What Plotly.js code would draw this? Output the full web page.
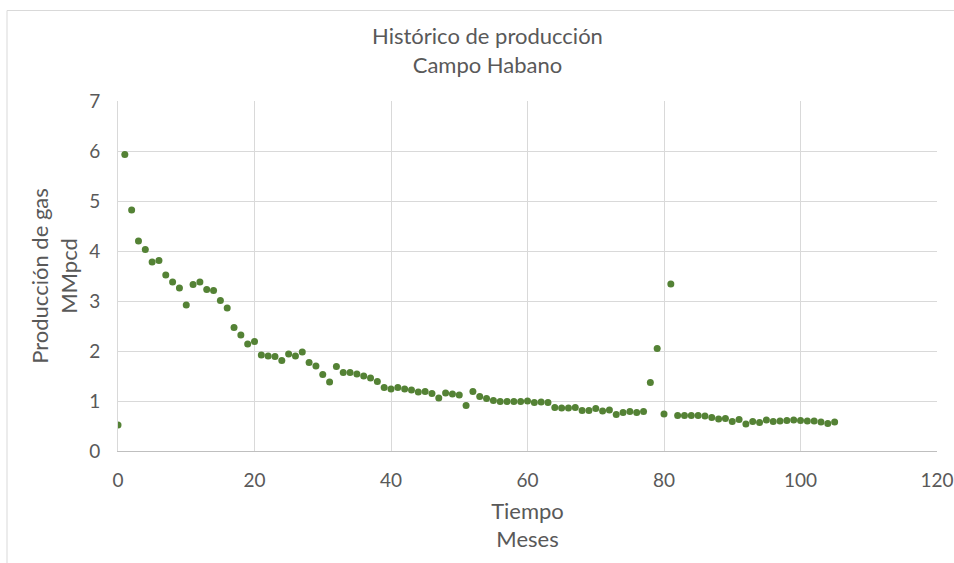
<!DOCTYPE html>
<html>
<head>
<meta charset="utf-8">
<script src="https://cdn.plot.ly/plotly-3.0.1.min.js"></script>
<style>html,body{margin:0;padding:0;background:#fff;}#chart{width:954px;height:563px;}</style>
</head>
<body>
<div id="chart"></div>
<script>
const months = [];
for (let i = 0; i <= 105; i++) months.push(i);
const gasProduction = [
  0.52, 5.93, 4.82, 4.20, 4.03, 3.78, 3.81, 3.52, 3.38, 3.26,
  2.92, 3.33, 3.38, 3.23, 3.21, 3.01, 2.86, 2.47, 2.32, 2.14,
  2.19, 1.92, 1.90, 1.89, 1.81, 1.94, 1.90, 1.98, 1.77, 1.70,
  1.53, 1.38, 1.69, 1.57, 1.57, 1.54, 1.50, 1.46, 1.39, 1.27,
  1.24, 1.27, 1.24, 1.22, 1.18, 1.19, 1.15, 1.06, 1.16, 1.14,
  1.12, 0.91, 1.19, 1.09, 1.05, 1.01, 0.99, 0.99, 0.99, 0.99,
  1.00, 0.97, 0.98, 0.97, 0.87, 0.86, 0.86, 0.87, 0.81, 0.81,
  0.85, 0.80, 0.82, 0.73, 0.77, 0.79, 0.77, 0.79, 1.37, 2.05,
  0.74, 3.34, 0.71, 0.71, 0.71, 0.71, 0.70, 0.67, 0.64, 0.65,
  0.59, 0.63, 0.54, 0.59, 0.57, 0.62, 0.59, 0.60, 0.61, 0.62,
  0.61, 0.60, 0.60, 0.58, 0.55, 0.58
];
const chartTitle = 'Histórico de producción<br>Campo Habano';
const xTitle = 'Tiempo<br>Meses';
const yTitle = 'Producción de gas<br>MMpcd';

const fontFam = 'Lato, "Open Sans", sans-serif';
const grey = '#595959';

const trace = {
  x: months, y: gasProduction, type: 'scatter', mode: 'markers',
  marker: {color: '#548235', size: 7}, hoverinfo: 'x+y'
};

const layout = {
  width: 954, height: 563,
  margin: {l: 118, r: 17, t: 101, b: 112},
  paper_bgcolor: '#fff', plot_bgcolor: '#fff',
  showlegend: false,
  font: {family: fontFam, color: grey},
  title: {text: chartTitle, font: {size: 22, color: grey, family: fontFam},
          x: 0.511, xref: 'container', xanchor: 'center',
          y: 1 - 44/563, yref: 'container', yanchor: 'middle'},
  xaxis: {
    range: [0, 120], dtick: 20, tick0: 0,
    showgrid: true, gridcolor: '#d9d9d9', gridwidth: 1,
    zeroline: false, showline: true, linecolor: '#bfbfbf', linewidth: 1,
    ticks: '', ticklabelstandoff: 12,
    tickfont: {size: 19, color: grey, family: fontFam},
    title: {text: xTitle, font: {size: 22, color: grey, family: fontFam}, standoff: 13}
  },
  yaxis: {
    range: [0, 7], dtick: 1, tick0: 0,
    showgrid: true, gridcolor: '#d9d9d9', gridwidth: 1,
    zeroline: false, showline: true, linecolor: '#d9d9d9', linewidth: 1,
    ticks: '', ticklabelstandoff: 13,
    tickfont: {size: 19, color: grey, family: fontFam},
    title: {text: yTitle, font: {size: 22, color: grey, family: fontFam}, standoff: 5}
  },
  shapes: [{
    type: 'rect', xref: 'paper', yref: 'paper',
    x0: (7 - 118) / 819, x1: 1.2, y0: -0.5, y1: (451 - 10.5) / 350,
    line: {color: '#d9d9d9', width: 1}, fillcolor: 'rgba(0,0,0,0)', layer: 'below'
  }]
};

Plotly.newPlot('chart', [trace], layout, {displayModeBar: false, staticPlot: true});
</script>
</body>
</html>
